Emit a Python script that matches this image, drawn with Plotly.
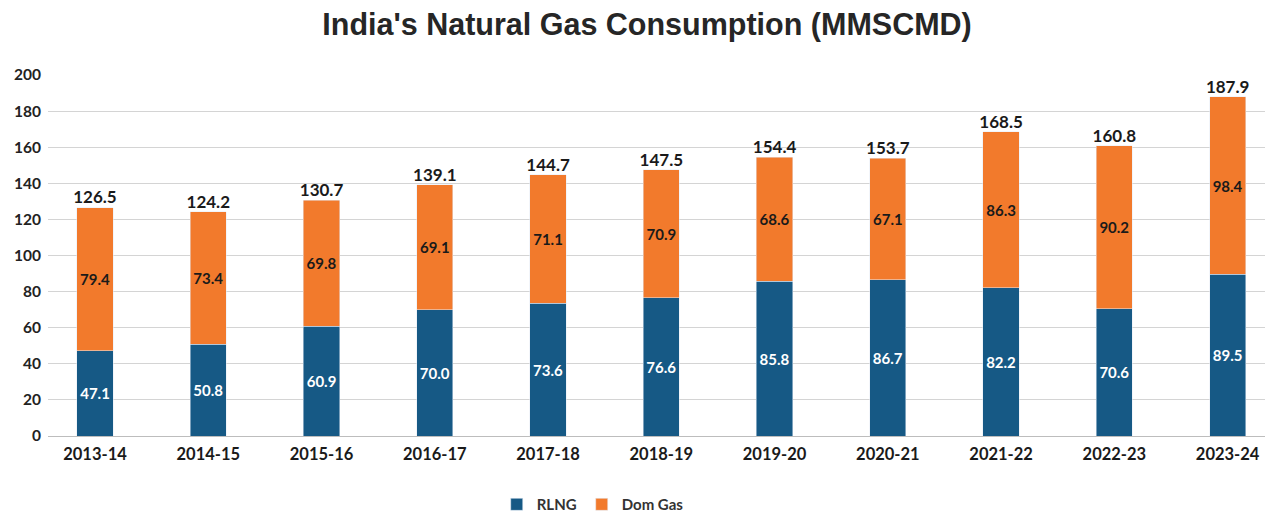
import plotly.graph_objects as go

years = ["2013-14", "2014-15", "2015-16", "2016-17", "2017-18", "2018-19",
         "2019-20", "2020-21", "2021-22", "2022-23", "2023-24"]
rlng = [47.1, 50.8, 60.9, 70.0, 73.6, 76.6, 85.8, 86.7, 82.2, 70.6, 89.5]
dom_gas = [79.4, 73.4, 69.8, 69.1, 71.1, 70.9, 68.6, 67.1, 86.3, 90.2, 98.4]
totals = [126.5, 124.2, 130.7, 139.1, 144.7, 147.5, 154.4, 153.7, 168.5, 160.8, 187.9]
y_ticks = [0, 20, 40, 60, 80, 100, 120, 140, 160, 180, 200]

blue = "#165985"
orange = "#f27a2c"
font = "Lato"

fig = go.Figure()
fig.add_trace(go.Bar(
    x=years, y=rlng, name="RLNG", marker_color=blue, width=0.32,
    text=[f"{v:.1f}" for v in rlng], textposition="inside", insidetextanchor="middle",
    textfont=dict(color="white", size=15, family=font, weight="bold"), textangle=0,
))
fig.add_trace(go.Bar(
    x=years, y=dom_gas, name="Dom Gas", marker_color=orange, width=0.32,
    text=[f"{v:.1f}" for v in dom_gas], textposition="inside", insidetextanchor="middle",
    textfont=dict(color="#1a1a1a", size=15, family=font, weight="bold"), textangle=0,
))
fig.add_trace(go.Scatter(
    x=years, y=totals, mode="text", text=[f"{v:.1f}" for v in totals],
    textposition="top center", showlegend=False, hoverinfo="skip",
    textfont=dict(color="#1a1a1a", size=17, family=font, weight="bold"),
))

fig.update_layout(
    barmode="stack",
    width=1273, height=515,
    margin=dict(l=40, r=16, t=67, b=87, autoexpand=False),
    paper_bgcolor="white", plot_bgcolor="white",
    title=dict(text="<b>India's Natural Gas Consumption (MMSCMD)</b>",
               x=0.502, xanchor="center", y=0.969, yanchor="middle",
               font=dict(family="Liberation Sans", size=30.5, color="#262626")),
    legend=dict(orientation="h", x=0.4476, xanchor="center", y=-0.19, yanchor="middle",
                font=dict(family=font, size=15, color="#333333", weight="bold"),
                itemwidth=30, traceorder="normal"),
)
fig.update_xaxes(type="category", range=[-0.415, 10.33], automargin=False,
                 tickfont=dict(family=font, size=16.5, color="#1a1a1a", weight="bold"),
                 showline=False, ticks="", showgrid=False, ticklabelstandoff=6)
fig.update_yaxes(range=[0, 200], tickvals=y_ticks, showgrid=True, automargin=False,
                 gridcolor="#d4d4d4", gridwidth=1, zeroline=True,
                 zerolinecolor="#bdbdbd", zerolinewidth=1,
                 tickfont=dict(family=font, size=15.5, color="#222222", weight="bold"),
                 ticks="", ticklabelstandoff=6)
fig.write_html("out.html")
